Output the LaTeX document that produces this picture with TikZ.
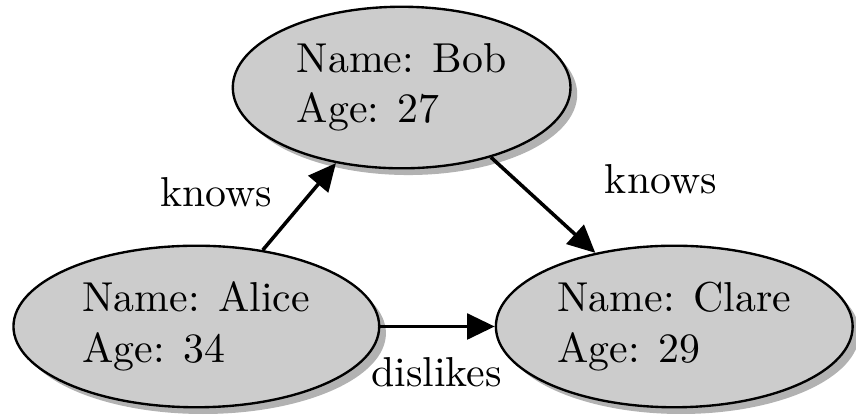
\documentclass[tikz,border=0pt]{standalone}
\usepackage{tikz}
\usetikzlibrary{shapes.geometric, arrows.meta, shadows, positioning}

\begin{document}
\begin{tikzpicture}[
    font=\fontsize{10.6pt}{12.8pt}\selectfont,
    person/.style = {ellipse, draw=black, fill=black!20, line width=0.6pt, inner sep=1pt, align=left,
                     minimum height=1.44cm,
                     drop shadow={shadow xshift=0.06cm, shadow yshift=-0.06cm, fill=black!30, opacity=1}},
    relation/.style = {-{Triangle[length=7pt, width=6.5pt]}, line width=0.9pt}
]
\useasboundingbox (0,0) rectangle (7.63,3.71);

% People
\node[person, minimum width=3.01cm] (bob) at (3.58,2.93) {Name: Bob\\Age: 27};
\node[person, minimum width=3.26cm] (alice) at (1.75,0.80) {Name: Alice\\Age: 34};
\node[person, minimum width=3.18cm] (clare) at (6.01,0.80) {Name: Clare\\Age: 29};

% Relations
\draw[relation] (alice.49) -- (bob.229);
\draw[relation] (bob.-38) -- (clare.137);
\draw[relation] (alice.east) -- (clare.west);

% Labels
\node (knowsab) at (1.93,2.00) {knows};
\node (knowsbc) at (5.89,2.11) {knows};
\node (dislikesac) at (3.89,0.39) {dislikes};

\end{tikzpicture}
\end{document}
